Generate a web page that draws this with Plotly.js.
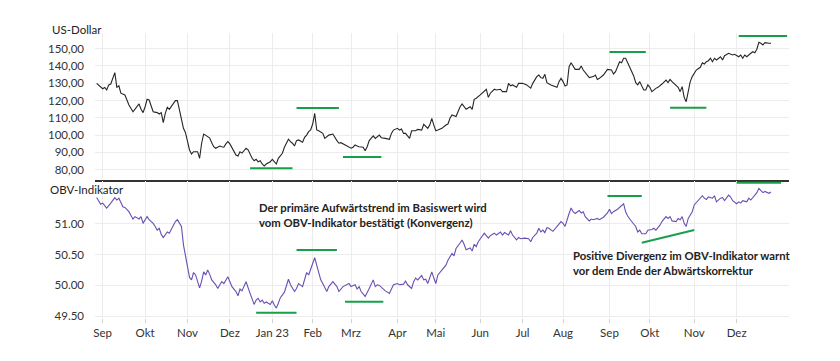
<!DOCTYPE html>
<html><head><meta charset="utf-8">
<script src="https://cdn.plot.ly/plotly-3.0.1.min.js"></script>
<style>html,body{margin:0;padding:0;background:#fff}#chart{width:840px;height:361px}</style>
</head><body><div id="chart"></div>
<script>
const priceDates = ['2022-08-29','2022-08-31','2022-09-01','2022-09-02','2022-09-06','2022-09-07','2022-09-08','2022-09-12','2022-09-13','2022-09-14','2022-09-15','2022-09-19','2022-09-20','2022-09-21','2022-09-23','2022-09-26','2022-09-28','2022-09-29','2022-09-30',
'2022-10-03','2022-10-04','2022-10-05','2022-10-06','2022-10-07','2022-10-11','2022-10-12','2022-10-13','2022-10-14','2022-10-17','2022-10-18','2022-10-19','2022-10-21','2022-10-24','2022-10-25','2022-10-26','2022-10-28','2022-10-31',
'2022-11-01','2022-11-02','2022-11-03','2022-11-04','2022-11-08','2022-11-09','2022-11-10','2022-11-11','2022-11-15','2022-11-16','2022-11-17','2022-11-18','2022-11-21','2022-11-23','2022-11-25','2022-11-28','2022-11-29','2022-11-30',
'2022-12-01','2022-12-02','2022-12-06','2022-12-07','2022-12-08','2022-12-09','2022-12-13','2022-12-14','2022-12-15','2022-12-16','2022-12-19','2022-12-20','2022-12-21','2022-12-22','2022-12-23','2022-12-27','2022-12-28','2022-12-30',
'2023-01-03','2023-01-04','2023-01-05','2023-01-06','2023-01-10','2023-01-11','2023-01-12','2023-01-13','2023-01-17','2023-01-18','2023-01-19','2023-01-20','2023-01-23','2023-01-25','2023-01-26','2023-01-27','2023-01-30','2023-01-31',
'2023-02-01','2023-02-02','2023-02-03','2023-02-06','2023-02-08','2023-02-09','2023-02-13','2023-02-15','2023-02-17','2023-02-21','2023-02-22','2023-02-24','2023-02-27','2023-02-28',
'2023-03-01','2023-03-02','2023-03-03','2023-03-06','2023-03-07','2023-03-09','2023-03-10','2023-03-13','2023-03-14','2023-03-16','2023-03-17','2023-03-21','2023-03-22','2023-03-24','2023-03-28','2023-03-29','2023-03-30',
'2023-04-03','2023-04-04','2023-04-05','2023-04-06','2023-04-10','2023-04-12','2023-04-13','2023-04-17','2023-04-18','2023-04-20','2023-04-21','2023-04-25','2023-04-26','2023-04-27','2023-04-28',
'2023-05-01','2023-05-02','2023-05-04','2023-05-08','2023-05-09','2023-05-10','2023-05-11','2023-05-15','2023-05-16','2023-05-17','2023-05-18','2023-05-19','2023-05-22','2023-05-24','2023-05-25','2023-05-26','2023-05-30',
'2023-06-01','2023-06-02','2023-06-05','2023-06-06','2023-06-07','2023-06-08','2023-06-12','2023-06-13','2023-06-15','2023-06-16','2023-06-21','2023-06-22','2023-06-23','2023-06-26','2023-06-28','2023-06-29',
'2023-07-03','2023-07-06','2023-07-10','2023-07-11','2023-07-13','2023-07-14','2023-07-17','2023-07-18','2023-07-19','2023-07-20','2023-07-24','2023-07-25','2023-07-27','2023-07-28','2023-07-31',
'2023-08-01','2023-08-02','2023-08-03','2023-08-04','2023-08-07','2023-08-08','2023-08-09','2023-08-11','2023-08-14','2023-08-15','2023-08-17','2023-08-18','2023-08-22','2023-08-23','2023-08-24','2023-08-25','2023-08-29','2023-08-30','2023-08-31',
'2023-09-05','2023-09-06','2023-09-07','2023-09-08','2023-09-11','2023-09-12','2023-09-13','2023-09-14','2023-09-15','2023-09-18','2023-09-19','2023-09-20','2023-09-21','2023-09-22','2023-09-25','2023-09-26','2023-09-27','2023-09-28','2023-09-29',
'2023-10-02','2023-10-03','2023-10-05','2023-10-06','2023-10-10','2023-10-12','2023-10-13','2023-10-16','2023-10-17','2023-10-19','2023-10-20','2023-10-23','2023-10-24','2023-10-25','2023-10-26','2023-10-27','2023-10-30','2023-10-31',
'2023-11-01','2023-11-02','2023-11-06','2023-11-07','2023-11-08','2023-11-09','2023-11-10','2023-11-13','2023-11-14','2023-11-15','2023-11-16','2023-11-20','2023-11-21','2023-11-22','2023-11-27','2023-11-29','2023-11-30',
'2023-12-04','2023-12-05','2023-12-06','2023-12-07','2023-12-08','2023-12-12','2023-12-13','2023-12-14','2023-12-15','2023-12-18','2023-12-19','2023-12-20','2023-12-21','2023-12-26','2023-12-27'];
const priceValues = [129.9,127.6,126.8,127.5,126.1,129.0,129.5,136.1,127.6,128.5,124.2,123.2,120.7,117.4,113.5,114.9,118.0,114.9,113.0,
116.4,120.7,120.3,117.4,113.5,113.0,112.2,113.0,107.2,112.6,116.1,114.9,118.7,119.9,119.9,114.5,103.9,101.4,
95.6,91.4,89.1,90.4,90.4,86.6,95.3,100.6,99.1,98.3,95.6,93.3,92.4,93.7,93.3,93.0,94.9,96.2,
94.9,93.0,88.5,87.9,90.4,89.6,92.4,91.5,88.5,86.6,85.2,86.0,84.6,85.2,83.3,82.1,83.3,84.6,
86.0,84.6,83.3,86.6,89.5,93.0,95.6,97.6,96.2,95.3,93.7,96.8,97.2,95.9,98.7,100.0,102.0,103.0,
106.4,112.6,103.0,102.5,101.0,98.1,100.0,100.6,96.8,95.3,95.6,94.3,93.7,93.3,
92.4,93.0,94.3,93.7,93.3,93.0,91.0,93.3,96.8,99.5,98.1,100.0,98.5,98.1,97.6,101.0,102.9,
103.9,102.9,103.5,101.0,101.0,98.1,102.5,102.5,103.3,102.9,106.2,103.9,105.8,109.7,105.8,
102.5,102.9,103.9,105.8,106.4,109.7,111.6,110.7,113.5,116.4,118.0,116.1,114.9,116.4,114.9,120.7,121.3,
123.2,124.2,125.1,126.5,121.8,124.2,126.5,126.1,126.5,125.1,125.1,129.9,128.5,129.0,127.6,129.9,
129.9,129.0,127.1,129.9,133.8,134.7,133.2,132.8,135.1,130.3,129.0,128.4,127.6,130.9,132.8,
130.9,128.4,129.0,139.5,141.8,139.9,138.0,138.0,139.9,137.6,134.7,133.2,133.8,134.7,132.2,132.8,134.7,136.1,138.0,
137.6,135.3,136.7,139.5,142.4,141.8,144.4,144.4,141.5,139.5,136.7,134.2,130.3,129.0,130.9,128.4,126.1,126.1,129.0,
127.6,125.1,127.0,127.6,129.5,131.8,130.3,132.2,130.9,128.4,127.6,125.1,128.0,121.8,119.3,125.1,130.9,133.8,
135.7,137.6,139.2,141.8,141.1,142.4,143.0,144.4,142.4,144.4,143.4,145.3,143.4,145.9,147.3,146.3,146.7,
145.3,146.3,144.4,146.3,145.3,147.3,148.2,147.6,149.6,153.6,153.1,152.1,153.4,153.1,153.1];

const obvDates = ['2022-08-29','2022-08-30','2022-08-31','2022-09-01','2022-09-02','2022-09-06','2022-09-08','2022-09-09','2022-09-12','2022-09-13','2022-09-14','2022-09-15','2022-09-16','2022-09-19','2022-09-21','2022-09-22','2022-09-23','2022-09-26','2022-09-28','2022-09-29','2022-09-30',
'2022-10-03','2022-10-04','2022-10-05','2022-10-07','2022-10-10','2022-10-11','2022-10-12','2022-10-13','2022-10-14','2022-10-18','2022-10-19','2022-10-20','2022-10-21','2022-10-24','2022-10-25','2022-10-27','2022-10-28','2022-10-31',
'2022-11-01','2022-11-02','2022-11-03','2022-11-04','2022-11-07','2022-11-08','2022-11-09','2022-11-10','2022-11-11','2022-11-14','2022-11-15','2022-11-16','2022-11-17','2022-11-21','2022-11-22','2022-11-23','2022-11-25','2022-11-28','2022-11-29','2022-11-30',
'2022-12-01','2022-12-02','2022-12-06','2022-12-07','2022-12-08','2022-12-09','2022-12-13','2022-12-14','2022-12-15','2022-12-16','2022-12-19','2022-12-20','2022-12-21','2022-12-22','2022-12-23','2022-12-27','2022-12-28','2022-12-30',
'2023-01-03','2023-01-04','2023-01-05','2023-01-06','2023-01-09','2023-01-11','2023-01-12','2023-01-13','2023-01-17','2023-01-19','2023-01-20','2023-01-23','2023-01-25','2023-01-26','2023-01-27','2023-01-30','2023-01-31',
'2023-02-02','2023-02-03','2023-02-06','2023-02-07','2023-02-08','2023-02-10','2023-02-13','2023-02-15','2023-02-17','2023-02-21','2023-02-23','2023-02-27','2023-02-28',
'2023-03-01','2023-03-03','2023-03-06','2023-03-07','2023-03-08','2023-03-10','2023-03-14','2023-03-16','2023-03-17','2023-03-20','2023-03-21','2023-03-23','2023-03-24','2023-03-28','2023-03-29','2023-03-30',
'2023-04-03','2023-04-04','2023-04-06','2023-04-10','2023-04-11','2023-04-13','2023-04-14','2023-04-17','2023-04-18','2023-04-20','2023-04-21','2023-04-24','2023-04-25','2023-04-27','2023-04-28',
'2023-05-01','2023-05-02','2023-05-04','2023-05-08','2023-05-09','2023-05-11','2023-05-12','2023-05-15','2023-05-17','2023-05-18','2023-05-19','2023-05-22','2023-05-24','2023-05-25','2023-05-26','2023-05-30','2023-05-31',
'2023-06-02','2023-06-05','2023-06-07','2023-06-08','2023-06-12','2023-06-13','2023-06-15','2023-06-16','2023-06-20','2023-06-22','2023-06-23','2023-06-26','2023-06-28','2023-06-29','2023-06-30',
'2023-07-05','2023-07-07','2023-07-10','2023-07-11','2023-07-13','2023-07-14','2023-07-17','2023-07-18','2023-07-19','2023-07-20','2023-07-21','2023-07-25','2023-07-27','2023-07-31',
'2023-08-01','2023-08-02','2023-08-04','2023-08-07','2023-08-08','2023-08-09','2023-08-11','2023-08-14','2023-08-15','2023-08-16','2023-08-18','2023-08-21','2023-08-22','2023-08-24','2023-08-25','2023-08-28','2023-08-29','2023-08-31',
'2023-09-01','2023-09-05','2023-09-06','2023-09-08','2023-09-12','2023-09-13','2023-09-14','2023-09-15','2023-09-19','2023-09-21','2023-09-22','2023-09-25','2023-09-26','2023-09-28','2023-09-29',
'2023-10-03','2023-10-04','2023-10-05','2023-10-09','2023-10-10','2023-10-12','2023-10-13','2023-10-16','2023-10-17','2023-10-19','2023-10-20','2023-10-23','2023-10-24','2023-10-25','2023-10-26','2023-10-27','2023-10-31',
'2023-11-01','2023-11-03','2023-11-07','2023-11-08','2023-11-09','2023-11-10','2023-11-14','2023-11-15','2023-11-16','2023-11-20','2023-11-21','2023-11-22','2023-11-27','2023-11-28','2023-11-29',
'2023-12-01','2023-12-04','2023-12-05','2023-12-06','2023-12-08','2023-12-11','2023-12-12','2023-12-13','2023-12-15','2023-12-18','2023-12-19','2023-12-20','2023-12-21','2023-12-26','2023-12-27'];
const obvValues = [51.43,51.37,51.32,51.34,51.30,51.26,51.34,51.39,51.43,51.39,51.42,51.35,51.28,51.27,51.20,51.14,51.08,51.12,51.08,51.12,51.01,
51.07,51.12,51.07,51.01,50.96,50.90,50.93,50.83,50.78,50.87,50.85,50.92,50.98,51.04,51.07,50.96,50.66,50.50,
50.33,50.13,50.09,50.21,50.17,50.06,49.96,50.07,50.22,50.17,50.25,50.18,50.09,50.01,49.95,50.01,50.06,50.03,50.09,50.14,
50.06,49.98,49.90,49.83,49.94,49.91,50.06,49.95,49.87,49.78,49.69,49.76,49.79,49.73,49.76,49.71,49.73,49.69,
49.75,49.68,49.63,49.71,49.80,49.89,50.01,50.10,50.01,49.90,49.95,50.03,49.98,50.09,50.21,50.17,50.27,
50.45,50.33,50.20,50.09,50.03,49.90,49.98,50.06,49.98,49.90,49.98,50.01,50.03,
49.98,50.01,49.94,49.98,49.90,49.82,49.95,50.09,49.98,50.01,50.00,49.93,49.91,49.87,49.95,50.01,
50.03,50.01,50.02,50.07,50.01,49.95,50.06,50.12,50.09,50.16,50.09,50.10,50.03,50.22,50.12,
50.03,50.17,50.25,50.33,50.41,50.52,50.48,50.60,50.69,50.74,50.67,50.58,50.61,50.56,50.67,50.63,50.71,
50.81,50.85,50.77,50.81,50.85,50.82,50.87,50.82,50.86,50.82,50.89,50.82,50.74,50.78,50.76,
50.77,50.76,50.71,50.78,50.85,50.93,50.87,50.90,50.86,50.94,50.93,50.88,50.97,51.04,
51.01,50.96,51.17,51.26,51.20,51.17,51.22,51.18,51.20,51.12,51.05,51.08,51.07,51.09,51.07,51.09,51.11,51.18,
51.24,51.17,51.20,51.24,51.31,51.33,51.20,51.13,51.04,50.96,50.87,50.90,50.84,50.84,50.90,
50.91,50.93,50.90,50.98,51.04,51.12,51.09,51.12,51.05,51.04,51.09,51.07,51.12,51.01,50.96,51.09,51.20,
51.31,51.39,51.46,51.42,51.40,51.44,51.42,51.46,51.36,51.42,51.43,51.38,51.47,51.44,51.38,
51.33,51.36,51.34,51.38,51.36,51.42,51.39,51.43,51.51,51.58,51.54,51.51,51.53,51.50,51.52];

const monthTickDates = ['2022-09-01','2022-10-03','2022-11-01','2022-12-01','2023-01-03','2023-02-01','2023-03-01','2023-04-03','2023-05-01','2023-06-01','2023-07-03','2023-08-01','2023-09-01','2023-10-02','2023-11-01','2023-12-01'];
const monthTickLabels = ['Sep','Okt','Nov','Dez','Jan 23','Feb','Mrz','Apr','Mai','Jun','Jul','Aug','Sep','Okt','Nov','Dez'];
const priceTickVals = [80,90,100,110,120,130,140,150];
const priceTickLabels = ['80,00','90,00','100,00','110,00','120,00','130,00','140,00','150,00'];
const obvTickVals = [49.5,50,50.5,51];
const obvTickLabels = ['49.50','50.00','50.50','51.00'];
const marketHolidays = ['2022-09-05','2022-11-24','2022-12-26','2023-01-02','2023-01-16','2023-02-20','2023-04-07','2023-05-29','2023-06-19','2023-07-04','2023-09-04','2023-11-23','2023-12-25','2024-01-01'];

// green trend marks (price panel)
const priceMarkStart = ['2022-12-15','2023-01-20','2023-02-23','2023-09-01','2023-10-16','2023-12-04'];
const priceMarkEnd   = ['2023-01-18','2023-02-21','2023-03-22','2023-09-28','2023-11-09','2024-01-09'];
const priceMarkLevel = [80.9,115.7,87.3,148.0,115.8,157.3];
// green trend marks (OBV panel)
const obvMarkStart = ['2022-12-20','2023-01-20','2023-02-24','2023-08-31','2023-09-26','2023-12-01'];
const obvMarkEnd   = ['2023-01-20','2023-02-17','2023-03-23','2023-09-26','2023-11-01','2024-01-04'];
const obvMarkStartLevel = [49.555,50.577,49.735,51.456,50.694,51.673];
const obvMarkEndLevel   = [49.555,50.577,49.735,51.456,50.902,51.673];

const FONT = 'Lato, "Noto Sans", sans-serif';
const GREEN = '#17a04a';
const breaks = [{bounds:['sat','mon']},{values:marketHolidays}];
const xRange = ['2022-08-26 04:30','2024-01-09 22:00'];

const traces = [
  {x:priceDates, y:priceValues, xaxis:'x', yaxis:'y', type:'scatter', mode:'lines',
   line:{color:'#262626', width:1.1}, hoverinfo:'skip'},
  {x:obvDates, y:obvValues, xaxis:'x2', yaxis:'y2', type:'scatter', mode:'lines',
   line:{color:'#6a4fb2', width:1.1}, hoverinfo:'skip'}
];

const shapes = [];
priceMarkStart.forEach((s,i)=>shapes.push({type:'line', xref:'x', yref:'y', x0:s, x1:priceMarkEnd[i], y0:priceMarkLevel[i], y1:priceMarkLevel[i], line:{color:GREEN, width:2}}));
obvMarkStart.forEach((s,i)=>shapes.push({type:'line', xref:'x2', yref:'y2', x0:s, x1:obvMarkEnd[i], y0:obvMarkStartLevel[i], y1:obvMarkEndLevel[i], line:{color:GREEN, width:2}}));

const gridColor = '#ececec';
const tickFont = {family:FONT, size:11.5, color:'#333'};
const layout = {
  width:840, height:361,
  margin:{l:95, r:51, t:33, b:43},
  paper_bgcolor:'#fff', plot_bgcolor:'#fff',
  showlegend:false,
  font:{family:FONT, size:11, color:'#333'},
  xaxis:{type:'date', range:xRange, rangebreaks:breaks, anchor:'y',
    tickmode:'array', tickvals:monthTickDates, ticktext:monthTickLabels, showticklabels:false,
    showgrid:true, gridcolor:gridColor, gridwidth:1, zeroline:false,
    showline:true, linecolor:'#333', linewidth:2, ticks:''},
  xaxis2:{type:'date', range:xRange, rangebreaks:breaks, anchor:'y2',
    tickmode:'array', tickvals:monthTickDates, ticktext:monthTickLabels,
    showgrid:true, gridcolor:gridColor, gridwidth:1, zeroline:false, showline:false,
    ticks:'outside', ticklen:4, tickcolor:'#cfcfcf', tickfont:tickFont},
  yaxis:{domain:[0.4842,1], range:[74.05,159.0], tickmode:'array', tickvals:priceTickVals, ticktext:priceTickLabels,
    showgrid:true, gridcolor:gridColor, zeroline:false, showline:false, ticks:'', ticklabelstandoff:10,
    tickfont:tickFont},
  yaxis2:{domain:[0,0.4807], range:[49.469,51.70], tickmode:'array', tickvals:obvTickVals, ticktext:obvTickLabels,
    showgrid:true, gridcolor:gridColor, zeroline:false, showline:false, ticks:'', ticklabelstandoff:10,
    tickfont:tickFont},
  shapes:shapes,
  annotations:[
    {xref:'paper', yref:'paper', x:-0.0648, y:1.014, xanchor:'left', yanchor:'middle', showarrow:false,
     text:'US-Dollar', font:{family:FONT, size:11.5, color:'#222'}},
    {xref:'paper', yref:'paper', x:-0.0677, y:0.4526, xanchor:'left', yanchor:'middle', showarrow:false,
     text:'OBV-Indikator', font:{family:FONT, size:11.5, color:'#222'}},
    {xref:'paper', yref:'paper', x:0.2334, y:0.3614, xanchor:'left', yanchor:'middle', align:'left', showarrow:false,
     text:'<b>Der primäre Aufwärtstrend im Basiswert wird<br>vom OBV-Indikator bestätigt (Konvergenz)</b>',
     font:{family:FONT, size:11.3, color:'#222'}},
    {xref:'paper', yref:'paper', x:0.6855, y:0.193, xanchor:'left', yanchor:'middle', align:'left', showarrow:false,
     text:'<b>Positive Divergenz im OBV-Indikator warnt<br>vor dem Ende der Abwärtskorrektur</b>',
     font:{family:FONT, size:11.3, color:'#222'}}
  ]
};
Plotly.newPlot('chart', traces, layout, {staticPlot:true, displayModeBar:false});
</script></body></html>
